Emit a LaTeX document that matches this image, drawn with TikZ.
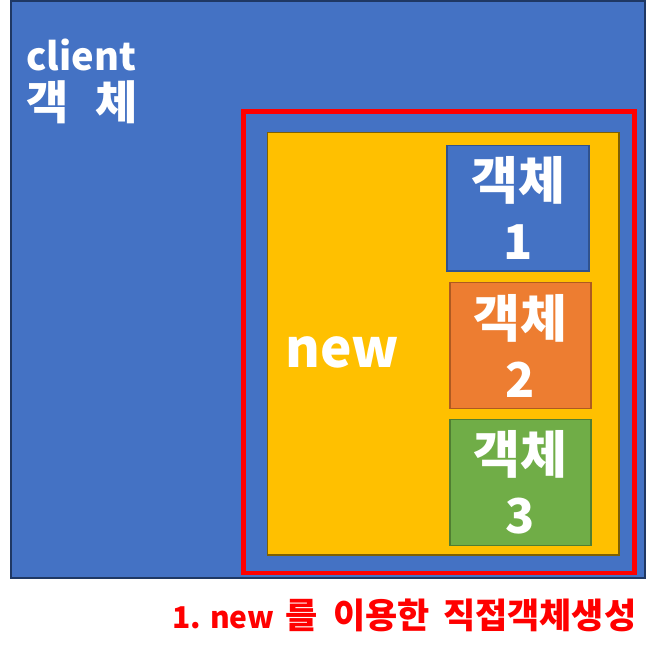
\documentclass[tikz,border=0pt]{standalone}
\usepackage{fontspec}
\setmainfont{Noto Sans CJK KR}
\usetikzlibrary{positioning}

\definecolor{objblue}{HTML}{4472C4}
\definecolor{objblueline}{HTML}{2F528F}
\definecolor{clientline}{HTML}{1F3864}
\definecolor{newyellow}{HTML}{FFC000}
\definecolor{newyellowline}{HTML}{7F6000}
\definecolor{objorange}{HTML}{ED7D31}
\definecolor{objorangeline}{HTML}{AE5A21}
\definecolor{objgreen}{HTML}{70AD47}
\definecolor{objgreenline}{HTML}{507E32}

% korean glyphs a bit larger than latin ones
\newcommand\krsize[2]{{\fontsize{#1}{#1}\selectfont #2}}

\begin{document}
\begin{tikzpicture}[x=1pt, y=-1pt,
			area/.style = {rectangle, anchor=north west, inner sep=0pt, outer sep=0pt},
			objbox/.style = {area, line width=1.2pt, text=white, align=center,
					font=\bfseries\fontsize{48}{60}\selectfont},
			lbl/.style = {inner sep=0pt, text=white, font=\bfseries\fontsize{38}{50}\selectfont}
		]
		\useasboundingbox (0,0) rectangle (664,656);
		% client object
		\node [area, fill=objblue, draw=clientline, line width=1.5pt,
			minimum width=634pt, minimum height=577pt] (client) at (11,1) {};
		\node [lbl, anchor=base west] (clientname) at (26,70) {client};
		\node [lbl, anchor=base west] (clientkr) at (26,119) {\krsize{46}{객\hspace{27pt}체}};
		% direct creation with new
		\node [area, draw=red, line width=4.5pt,
			minimum width=391pt, minimum height=461.5pt] (direct) at (243.5,111.5) {};
		\node [area, fill=newyellow, draw=newyellowline, line width=1.3pt,
			minimum width=351.3pt, minimum height=422.3pt] (newbox) at (267.7,132.7) {};
		\node [lbl, anchor=base west, font=\bfseries\fontsize{53}{60}\selectfont] (newlbl) at (285,367) {new};
		% objects
		\node [objbox, fill=objblue, draw=objblueline,
			minimum width=142pt, minimum height=125.3pt] (obj1) at (447,145.7) {};
		\node [objbox, fill=objorange, draw=objorangeline,
			minimum width=141pt, minimum height=125.6pt] (obj2) at (450,282.7) {};
		\node [objbox, fill=objgreen, draw=objgreenline,
			minimum width=141pt, minimum height=126.4pt] (obj3) at (450,419.3) {};
		\foreach \i in {1,2,3}
			\node [objbox, anchor=center, draw=none] (obj\i txt) at (obj\i.center) {\krsize{51}{객체}\\\i};
		% caption
		\node [inner sep=0pt, anchor=base west, text=red,
			font=\bfseries\fontsize{30}{36}\selectfont] (caption) at (172,628)
			{\makebox[113pt][l]{1. new}\makebox[48pt][l]{\krsize{35}{를}}%
			\makebox[110pt][l]{\krsize{35}{이용한}}\krsize{35}{직접객체생성}};
	\end{tikzpicture}
\end{document}
